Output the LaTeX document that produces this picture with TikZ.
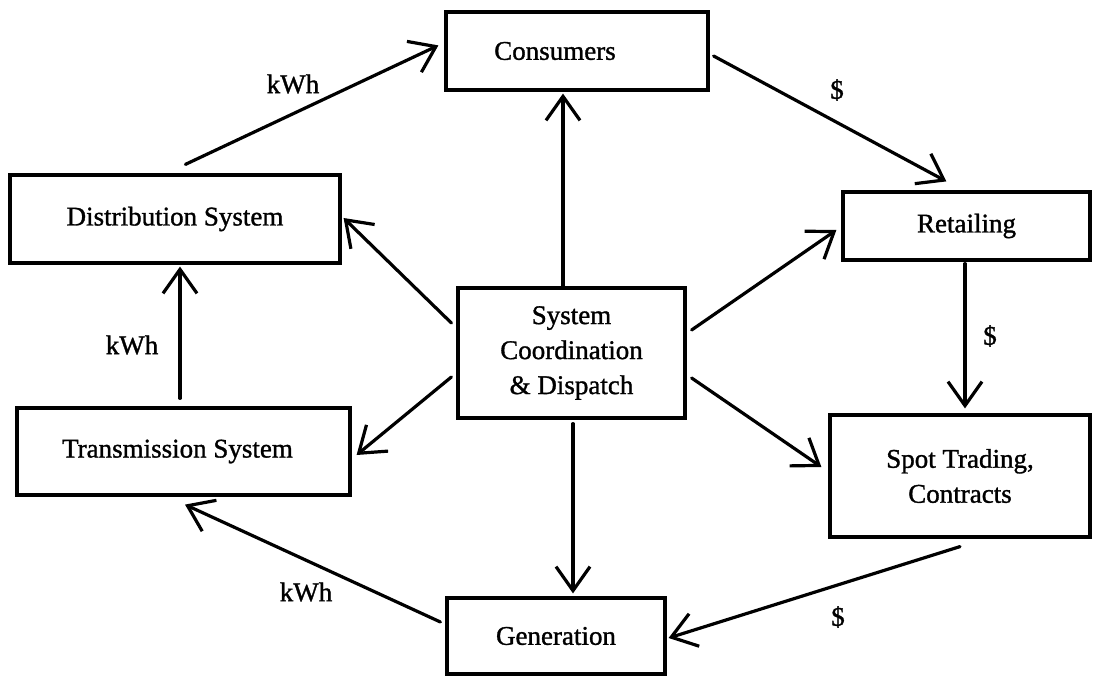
\documentclass[tikz,border=0pt]{standalone}
\usepackage{fontspec}
\setmainfont[FakeBold=1.2]{Liberation Serif}
\usetikzlibrary{arrows.meta,calc}

\tikzset{
  box/.style={draw, line width=3.2pt, rectangle, align=center, inner sep=0pt,
              font=\fontsize{27}{35}\selectfont},
  flow/.style={draw, line width=3.2pt, line cap=round,
               -{Straight Barb[length=24pt, width=34pt, line width=3.2pt]}},
  tag/.style={font=\fontsize{27}{30}\selectfont}
}

\begin{document}
\begin{tikzpicture}[x=1pt, y=-1pt]
  \useasboundingbox (0,0) rectangle (1093,676);

  % blocks
  \node[box, minimum width=262pt, minimum height=78pt]  (cons)   at (577,51)      {Consumers\hspace*{44pt}};
  \node[box, minimum width=227pt, minimum height=130pt] (sys)    at (571.5,353)   {System\\Coordination\\\& Dispatch};
  \node[box, minimum width=330pt, minimum height=88pt]  (dist)   at (175,219)     {Distribution System};
  \node[box, minimum width=247pt, minimum height=68pt]  (retail) at (966.5,226)   {Retailing};
  \node[box, minimum width=260pt, minimum height=122pt] (spot)   at (960,476)     {Spot Trading,\\Contracts};
  \node[box, minimum width=333pt, minimum height=87pt]  (trans)  at (183.5,451.5) {Transmission System\hspace*{12pt}};
  \node[box, minimum width=218pt, minimum height=76pt]  (gen)    at (556,636)     {Generation};

  % energy flows
  \draw[flow] ($(dist.north west)+(177,-9)$) -- ($(cons.north west)+(-6,35)$);
  \draw[flow] ($(trans.north)+(-3.5,-8)$) -- ($(dist.south)+(5,2)$);
  \draw[flow] ($(gen.west)+(-5,-14)$) -- ($(trans.south)+(1.5,8)$);

  % money flows
  \draw[flow] ($(cons.east)+(4,5)$) -- ($(retail.north west)+(105,-9)$);
  \draw[flow] ($(retail.south)+(-1.5,2)$) -- ($(spot.north)+(5,-5)$);
  \draw[flow] ($(spot.south)+(0,8)$) -- ($(gen.east)+(2,2)$);

  % coordination links
  \draw[flow] ($(sys.north)+(-8.5,0)$) -- ($(cons.south)+(-14,2)$);
  \draw[flow] ($(sys.west)+(-5,-30)$) -- ($(dist.east)+(2,-1)$);
  \draw[flow] ($(sys.west)+(-5,24)$) -- ($(trans.east)+(5,3.5)$);
  \draw[flow] ($(sys.east)+(5,-23)$) -- ($(retail.west)+(-5,4)$);
  \draw[flow] ($(sys.east)+(5,25)$) -- ($(spot.west)+(-7,-9)$);
  \draw[flow] ($(sys.south)+(1.5,4)$) -- ($(gen.north)+(17,-3)$);

  % flow labels
  \node[tag] (l1) at (293,84)  {kWh};
  \node[tag] (l2) at (132,345) {kWh};
  \node[tag] (l3) at (306,592) {kWh};
  \node[tag] (l4) at (837,90)  {\$};
  \node[tag] (l5) at (990,336) {\$};
  \node[tag] (l6) at (838,617) {\$};
\end{tikzpicture}
\end{document}
